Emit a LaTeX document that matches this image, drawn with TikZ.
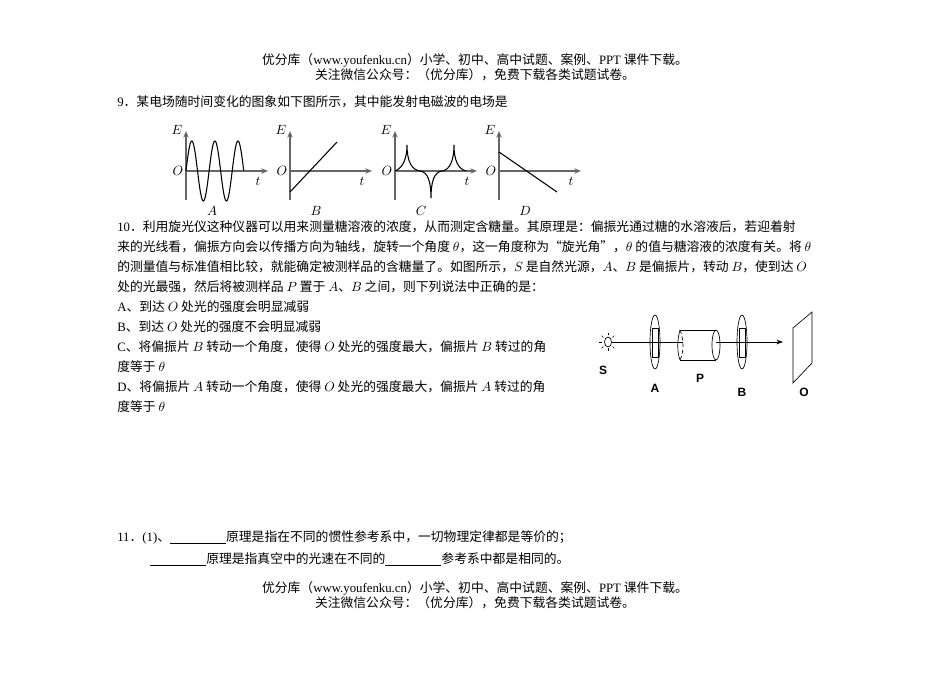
\documentclass[tikz,border=0pt]{standalone}
\usepackage{fontspec}
\setmainfont{Liberation Serif}
\newfontfamily\cjk{Noto Sans CJK SC}
\newfontfamily\lsans{Liberation Sans}
\usetikzlibrary{arrows.meta,calc}
\newcommand{\lt}[1]{{\rmfamily #1}}
\begin{document}
\begin{tikzpicture}[x=0.75pt,y=-0.75pt,
  txt/.style={anchor=west,inner sep=0pt,font=\cjk\fontsize{9.6}{11}\selectfont},
  ctr/.style={inner sep=0pt,font=\cjk\fontsize{9.6}{11}\selectfont},
  axl/.style={inner sep=0pt,font=\fontsize{10}{11}\selectfont},
  ax/.style={draw=black!60,line width=0.9pt,-{Stealth[length=5pt,width=4pt]}},
  crv/.style={line width=0.8pt},
  lbl/.style={inner sep=0pt,font=\lsans\bfseries\fontsize{9}{10}\selectfont}]
\useasboundingbox (0,0) rectangle (950,673);
% header
\node[ctr] (h1) at (475,60) {优分库（\lt{www.youfenku.cn}）小学、初中、高中试题、案例、\lt{PPT} 课件下载。};
\node[ctr] (h2) at (475,75) {关注微信公众号：（优分库），免费下载各类试题试卷。};
% Q9
\node[txt] (q9) at (117,102) {\lt{9}．某电场随时间变化的图象如下图所示，其中能发射电磁波的电场是};
% graphs
\foreach \dx/\L in {0/A,104/B,209/C,313/D}{
  \begin{scope}[shift={(\dx,0)}]
  \coordinate (o\L) at (186,171);
  \draw[ax] (186,200) -- (186,131);
  \draw[ax] (186,171) -- (268,171);
  \node[axl] at (177,130) {$E$};
  \node[axl] at (178,171) {$O$};
  \node[axl] at (258,181) {$t$};
  \node[axl] at (212,211) {$\L$};
  \end{scope}}
\draw[crv,domain=0:57.7,samples=120,smooth] plot ({186+\x},{171-30*sin(\x/23.1*360)});
\draw[crv] (290,192) -- (337,142);
\draw[crv] (395,171) .. controls (403,168) and (407,158) .. (407,145)
  .. controls (407,162) and (412,170) .. (420,171)
  .. controls (428,172) and (431,182) .. (431,198)
  .. controls (431,182) and (434,172) .. (442,171)
  .. controls (450,170) and (454,160) .. (454,145)
  .. controls (454,160) and (458,169) .. (466,171);
\draw[crv] (499,152) -- (557,192);
% Q10
\node[txt] (l1) at (117,227) {\lt{10}．利用旋光仪这种仪器可以用来测量糖溶液的浓度，从而测定含糖量。其原理是：偏振光通过糖的水溶液后，若迎着射};
\node[txt] (l2) at (117,247) {来的光线看，偏振方向会以传播方向为轴线，旋转一个角度 $\theta$，这一角度称为“旋光角”，$\theta$ 的值与糖溶液的浓度有关。将 $\theta$};
\node[txt] (l3) at (117,267) {的测量值与标准值相比较，就能确定被测样品的含糖量了。如图所示，$S$ 是自然光源，$A$、$B$ 是偏振片，转动 $B$，使到达 $O$};
\node[txt] (l4) at (117,287) {处的光最强，然后将被测样品 $P$ 置于 $A$、$B$ 之间，则下列说法中正确的是：};
\node[txt] (oa) at (117,307) {\lt{A}、到达 $O$ 处光的强度会明显减弱};
\node[txt] (ob) at (117,327) {\lt{B}、到达 $O$ 处光的强度不会明显减弱};
\node[txt] (oc) at (117,347) {\lt{C}、将偏振片 $B$ 转动一个角度，使得 $O$ 处光的强度最大，偏振片 $B$ 转过的角};
\node[txt] (oc2) at (117,367) {度等于 $\theta$};
\node[txt] (od) at (117,387) {\lt{D}、将偏振片 $A$ 转动一个角度，使得 $O$ 处光的强度最大，偏振片 $A$ 转过的角};
\node[txt] (od2) at (117,407) {度等于 $\theta$};
% optics
\begin{scope}[line width=0.5pt]
\coordinate (S) at (608,342);
\draw (S) ellipse (3.5 and 5);
\foreach \a in {0,45,...,315}{\draw ($(S)+(\a:6.5)$) -- ($(S)+(\a:9)$);}
\coordinate (E) at (783,342);
\draw[-{Stealth[length=5pt,width=3.5pt]}] (612,342) -- (E);
\fill[white] (683,330) rectangle (716,360);
\draw (655,342) ellipse (5 and 27);
\draw (652,328) rectangle (658,357);
\draw (742,342) ellipse (5 and 27);
\draw (739,328) rectangle (745,357);
\draw (680,330) -- (716,330);
\draw (680,360) -- (716,360);
\draw (716,345) ellipse (4 and 15);
\draw (680,330) .. controls (677,340) and (677,352) .. (680,360);
\draw[densely dashed] (680,330) .. controls (684,340) and (684,352) .. (680,360);
\draw (793,328) -- (812,312) -- (812,363) -- (793,383) -- cycle;
\end{scope}
\node[lbl] (lS) at (603,370) {S};
\node[lbl] (lA) at (655,388) {A};
\node[lbl] (lP) at (700,378) {P};
\node[lbl] (lB) at (742,392) {B};
\node[lbl] (lO) at (804,392) {O};
% Q11
\node[txt] (q11) at (117,537) {\lt{11}．\lt{(1)}、\underline{\hspace{42pt}}原理是指在不同的惯性参考系中，一切物理定律都是等价的；};
\node[txt] (q11b) at (150,559) {\underline{\hspace{42pt}}原理是指真空中的光速在不同的\underline{\hspace{42pt}}参考系中都是相同的。};
% footer
\node[ctr] (f1) at (475,588) {优分库（\lt{www.youfenku.cn}）小学、初中、高中试题、案例、\lt{PPT} 课件下载。};
\node[ctr] (f2) at (475,603) {关注微信公众号：（优分库），免费下载各类试题试卷。};
\end{tikzpicture}
\end{document}
